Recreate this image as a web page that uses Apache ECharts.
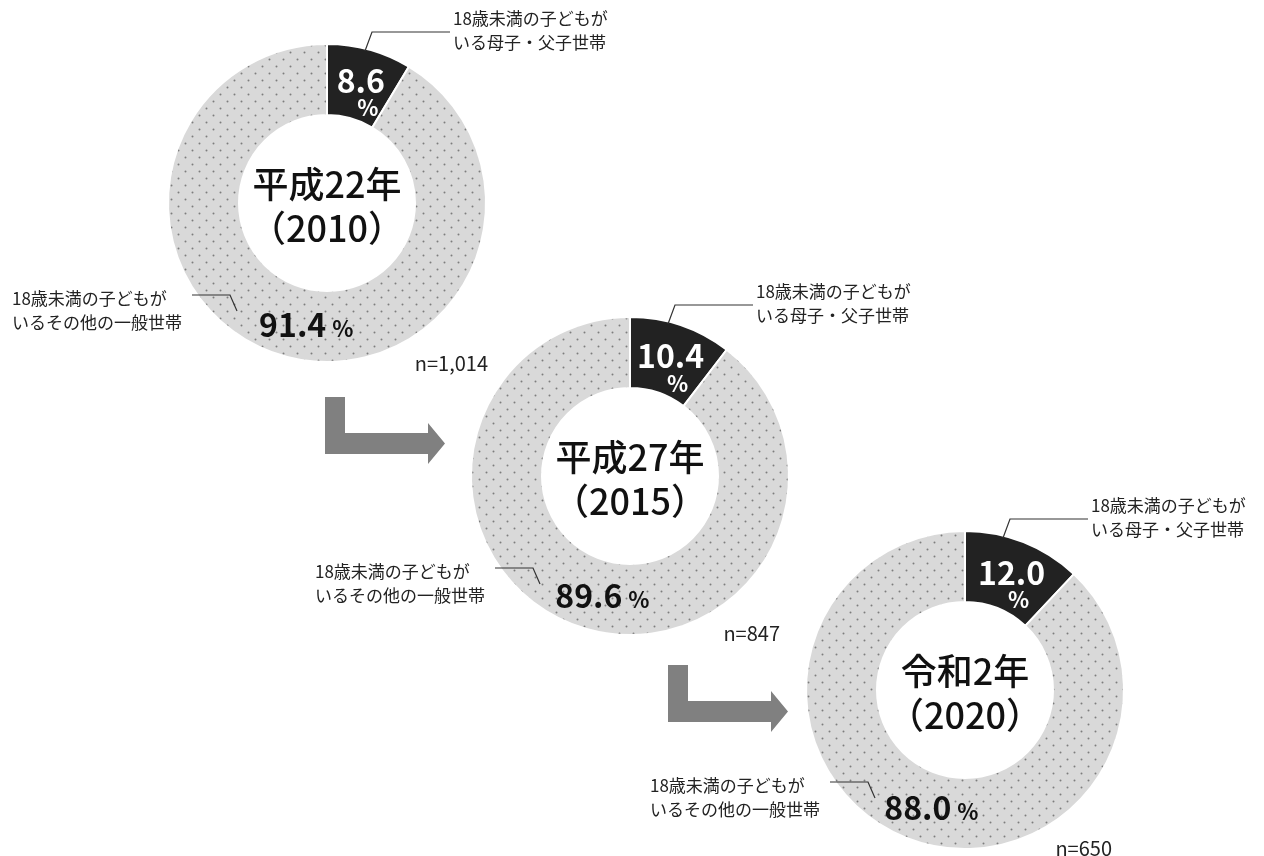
<!DOCTYPE html>
<html lang="ja">
<head>
<meta charset="utf-8">
<title>18歳未満の子どもがいる世帯の構成</title>
<script src="https://cdn.jsdelivr.net/npm/echarts@6/dist/echarts.min.js"></script>
<style>
  html, body { margin: 0; padding: 0; background: #fff; }
  #chart { width: 1264px; height: 856px; }
</style>
</head>
<body>
<div id="chart"></div>
<script>
// ---- data ----
const years = ["平成22年", "平成27年", "令和2年"];
const yearsWestern = ["（2010）", "（2015）", "（2020）"];
const categories = [
  "18歳未満の子どもが\nいる母子・父子世帯",
  "18歳未満の子どもが\nいるその他の一般世帯",
];
const singleParent = [8.6, 10.4, 12.0];
const otherHouseholds = [91.4, 89.6, 88.0];
const sampleSizes = ["n=1,014", "n=847", "n=650"];

// ---- layout ----
const centers = [[327, 203], [630, 476], [965, 690]];
const ringRadius = [88, 159];
const nLabelPos = [[488, 363], [780, 633], [1112, 848]];
const arrowPos = [[325, 397], [668, 665]];
const FONT = '"Noto Sans CJK JP", "Noto Sans", sans-serif';

function makeDots() {
  const c = document.createElement("canvas");
  c.width = 14;
  c.height = 14;
  const ctx = c.getContext("2d");
  ctx.fillStyle = "#d9d9d9";
  ctx.fillRect(0, 0, 14, 14);
  ctx.fillStyle = "#7d7d7d";
  [[3.5, 3.5], [10.5, 10.5]].forEach(([x, y]) => {
    ctx.beginPath();
    ctx.arc(x, y, 1, 0, Math.PI * 2);
    ctx.fill();
  });
  return c;
}
const dots = { image: makeDots(), repeat: "repeat" };

let series = [];
let graphic = [];

centers.forEach((c, i) => {
  const [cx, cy] = c;
  const values = [singleParent[i], otherHouseholds[i]];

  // ring with value labels
  series.push({
    type: "pie",
    z: 2,
    center: c,
    radius: ringRadius,
    startAngle: 90,
    clockwise: true,
    silent: true,
    avoidLabelOverlap: false,
    itemStyle: { borderColor: "#fff", borderWidth: 2 },
    label: {
      show: true,
      position: "inside",
      fontFamily: FONT,
      formatter: (p) =>
        p.dataIndex === 0
          ? `{sv|${p.value.toFixed(1)}}\n{sp|%}`
          : `{bv|${p.value.toFixed(1)}}{bp|%}`,
      rich: {
        sv: { color: "#fff", fontSize: 32, fontWeight: "bold", lineHeight: 32, fontFamily: FONT },
        sp: { color: "#fff", fontSize: 22, fontWeight: "bold", lineHeight: 22, padding: [0, 0, 0, 14], fontFamily: FONT },
        bv: { color: "#111", fontSize: 32, fontWeight: "bold", lineHeight: 34, fontFamily: FONT },
        bp: { color: "#111", fontSize: 22, fontWeight: "bold", lineHeight: 28, padding: [8, 0, 0, 6], fontFamily: FONT },
      },
    },
    labelLine: { show: false },
    labelLayout: (p) => (p.dataIndex === 0 ? { dy: 11 } : { dx: 13 }),
    data: [
      { name: categories[0], value: values[0], itemStyle: { color: "#222" } },
      { name: categories[1], value: values[1], itemStyle: { color: dots } },
    ],
  });

  // transparent copy carrying the category labels and leader lines
  series.push({
    type: "pie",
    z: 5,
    center: c,
    radius: ringRadius,
    startAngle: 90,
    clockwise: true,
    silent: true,
    avoidLabelOverlap: false,
    itemStyle: { color: "rgba(0,0,0,0)", borderWidth: 0 },
    label: {
      show: true,
      position: "outside",
      formatter: "{b}",
      color: "#222",
      fontSize: 17,
      lineHeight: 24,
      fontFamily: FONT,
    },
    labelLine: {
      show: true,
      minTurnAngle: 0,
      maxSurfaceAngle: 180,
      lineStyle: { color: "#333", width: 1.2 },
    },
    labelLayout: (p) =>
      p.dataIndex === 0
        ? {
            x: cx + 126, y: cy - 172, align: "left", verticalAlign: "middle",
            labelLinePoints: [[cx + 38, cy - 152], [cx + 45, cy - 171], [cx + 123, cy - 171]],
          }
        : {
            x: cx - 315, y: cy + 108, align: "left", verticalAlign: "middle",
            labelLinePoints: [[cx - 90, cy + 108], [cx - 97, cy + 92], [cx - 135, cy + 92]],
          },
    data: [
      { name: categories[0], value: values[0] },
      { name: categories[1], value: values[1] },
    ],
  });

  // year in the hole
  graphic.push({
    type: "text",
    x: cx,
    y: cy + 3,
    style: {
      text: years[i] + "\n" + yearsWestern[i],
      align: "center",
      verticalAlign: "middle",
      fontSize: 36,
      fontWeight: 500,
      lineHeight: 44,
      fontFamily: FONT,
      fill: "#111",
    },
  });

  graphic.push({
    type: "text",
    x: nLabelPos[i][0],
    y: nLabelPos[i][1],
    style: {
      text: sampleSizes[i],
      align: "right",
      verticalAlign: "middle",
      fontSize: 20,
      fontFamily: FONT,
      fill: "#222",
    },
  });
});

arrowPos.forEach(([x, y]) => {
  graphic.push({
    type: "polygon",
    x: x,
    y: y,
    shape: {
      points: [[0, 0], [20, 0], [20, 36], [103, 36], [103, 26], [120, 46.5], [103, 67], [103, 57], [0, 57]],
    },
    style: { fill: "#808080" },
  });
});

const chart = echarts.init(document.getElementById("chart"));
chart.setOption({
  animation: false,
  series: series,
  graphic: graphic,
});
window.onresize = () => chart.resize();
</script>
</body>
</html>
